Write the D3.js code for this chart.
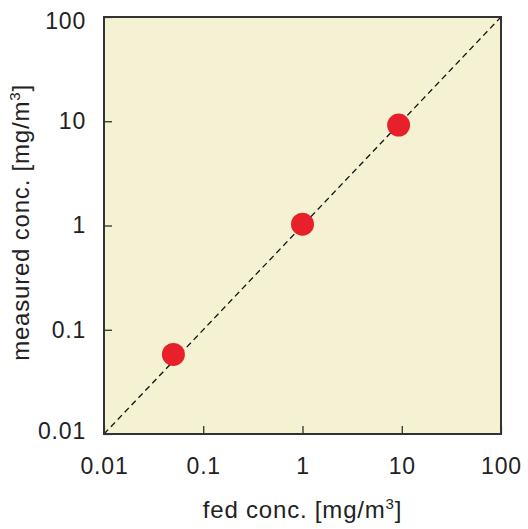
<!DOCTYPE html>
<html>
<head>
<meta charset="utf-8">
<script src="https://cdn.jsdelivr.net/npm/d3@7"></script>
<style>
	body { margin: 0; background: #fff; }
	text { font-family: "Liberation Sans", Arial, sans-serif; fill: #222; }
</style>
</head>
<body>
<div id="chart"></div>
<script>
	////////////////////////////////////////////////////////////
	//// Data //////////////////////////////////////////////////
	////////////////////////////////////////////////////////////
	const fedConc = [0.05, 1.0, 9.3];
	const measuredConc = [0.058, 1.03, 9.2];
	const tickValues = [0.01, 0.1, 1, 10, 100];
	const tickLabels = ["0.01", "0.1", "1", "10", "100"];
	const identityLine = [0.01, 100];

	////////////////////////////////////////////////////////////
	//// Setup /////////////////////////////////////////////////
	////////////////////////////////////////////////////////////
	const width = 528;
	const height = 529;
	const margin = { top: 17, right: 27, bottom: 95, left: 104 };
	const innerWidth = width - margin.left - margin.right;
	const innerHeight = height - margin.top - margin.bottom;
	const tickFont = 23;
	const titleFont = 24;

	const x = d3.scaleLog().domain([0.01, 100]).range([0, innerWidth]);
	const y = d3.scaleLog().domain([0.01, 100]).range([innerHeight, 0]);

	const svg = d3
		.select("#chart")
		.append("svg")
		.attr("width", width)
		.attr("height", height);

	const g = svg.append("g").attr("transform", `translate(${margin.left},${margin.top})`);

	////////////////////////////////////////////////////////////
	//// Render ////////////////////////////////////////////////
	////////////////////////////////////////////////////////////
	g.append("rect")
		.attr("width", innerWidth)
		.attr("height", innerHeight)
		.attr("fill", "#f5f2d4");

	// Identity line
	g.append("line")
		.attr("x1", x(identityLine[0]))
		.attr("y1", y(identityLine[0]))
		.attr("x2", x(identityLine[1]))
		.attr("y2", y(identityLine[1]))
		.attr("stroke", "#111")
		.attr("stroke-width", 1.3)
		.attr("stroke-dasharray", "6,4");

	// Points
	g.selectAll(".pt")
		.data(fedConc)
		.join("circle")
		.attr("class", "pt")
		.attr("cx", d => x(d))
		.attr("cy", (d, i) => y(measuredConc[i]))
		.attr("r", 11.5)
		.attr("fill", "#e8202a");

	// Axes (ticks inward)
	const fmt = d => tickLabels[tickValues.indexOf(d)];
	const styleAxis = a => {
		a.select(".domain").remove();
		a.attr("font-size", tickFont).attr("font-family", "Liberation Sans, Arial, sans-serif");
		a.selectAll("line").attr("stroke", "#222").attr("stroke-width", 1.2);
		a.selectAll("text").attr("fill", "#222").attr("letter-spacing", 0.8);
	};

	g.append("g")
		.attr("transform", `translate(0,${innerHeight})`)
		.call(d3.axisBottom(x).tickValues(tickValues).tickFormat(fmt).tickSize(-8).tickPadding(24).tickSizeOuter(0))
		.call(styleAxis);

	g.append("g")
		.call(d3.axisLeft(y).tickValues(tickValues).tickFormat(fmt).tickSize(-8).tickPadding(18).tickSizeOuter(0))
		.call(styleAxis)
		.call(a => a.selectAll(".tick text")
			.attr("dy", d => d === 100 ? "0.5em" : d === 0.01 ? "0.2em" : "0.32em"));

	// Frame
	g.append("rect")
		.attr("width", innerWidth)
		.attr("height", innerHeight)
		.attr("fill", "none")
		.attr("stroke", "#333")
		.attr("stroke-width", 2);

	// Axis titles
	const xTitle = svg.append("text")
		.attr("x", margin.left + innerWidth / 2)
		.attr("y", 518)
		.attr("text-anchor", "middle")
		.attr("letter-spacing", 0.8)
		.attr("font-size", titleFont);
	xTitle.append("tspan").text("fed conc. [mg/m");
	xTitle.append("tspan").attr("font-size", 15).attr("dy", -9).text("3");
	xTitle.append("tspan").attr("dy", 9).text("]");

	const yTitle = svg.append("text")
		.attr("transform", `translate(29,${margin.top + innerHeight / 2 - 3}) rotate(-90)`)
		.attr("text-anchor", "middle")
		.attr("letter-spacing", 0.8)
		.attr("font-size", titleFont);
	yTitle.append("tspan").text("measured conc. [mg/m");
	yTitle.append("tspan").attr("font-size", 15).attr("dy", -9).text("3");
	yTitle.append("tspan").attr("dy", 9).text("]");
</script>
</body>
</html>
